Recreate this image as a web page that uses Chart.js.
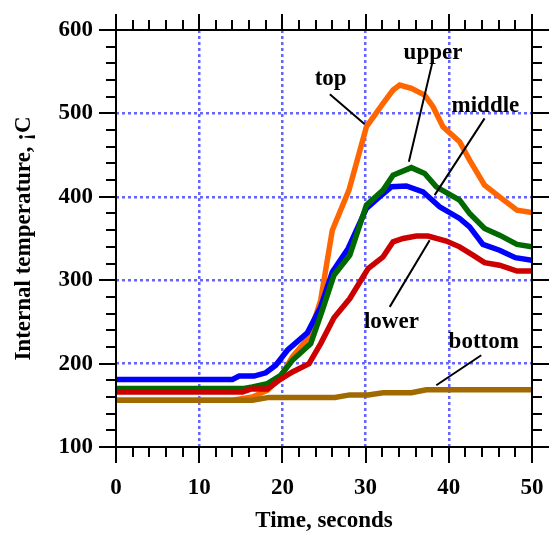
<!DOCTYPE html>
<html>
<head>
<meta charset="UTF-8">
<title>Internal temperature</title>
<script src="https://cdn.jsdelivr.net/npm/chart.js"></script>
<style>
    body { margin: 0; background: #fff; }
    #wrap { width: 549px; height: 533px; }
</style>
</head>
<body>
<div id="wrap"><canvas id="c" width="549" height="533"></canvas></div>
<script>
// values (time in s, temperature in ¡C)
const topT = [0, 14, 16.4, 18.2, 19.8, 21.2, 23.2, 24.6, 26.0, 28.0, 30.1, 32.1, 33.3, 34.1, 35.5, 37.1, 38.1, 39.3, 41.3, 42.5, 44.3, 46.1, 48.2, 50];
const topV = [156, 156, 160, 168, 184, 208, 232, 276, 360, 408, 484, 512, 528, 534, 530, 522, 508, 484, 466, 444, 414, 400, 384, 381];

const upperT = [0, 15.2, 16.4, 18.2, 19.8, 21.2, 23.4, 24.8, 26.2, 28.1, 30.1, 32.1, 33.3, 35.5, 37.1, 38.5, 41.3, 42.5, 44.3, 46.1, 48.2, 50];
const upperV = [170, 170, 172, 176, 186, 204, 224, 264, 306, 330, 390, 408, 426, 435, 428, 412, 396, 380, 362, 354, 343, 340];

const middleT = [0, 14.0, 14.8, 16.6, 18.0, 19.2, 20.6, 23.0, 24.6, 26.0, 27.9, 30.1, 31.7, 33.1, 34.9, 36.9, 38.9, 41.3, 42.5, 44.1, 46.1, 48.0, 50];
const middleV = [181, 181, 185, 185, 189, 198, 216, 237, 268, 310, 338, 386, 400, 412, 413, 406, 388, 374, 364, 343, 336, 327, 324];

const lowerT = [0, 15.2, 16.2, 18.2, 19.6, 21.2, 23.2, 24.6, 26.2, 28.1, 30.3, 32.1, 33.3, 34.5, 36.1, 37.5, 39.7, 41.3, 42.9, 44.3, 46.1, 48.2, 50];
const lowerV = [166, 166, 169.5, 169.5, 180, 190, 200, 224, 255, 278, 314, 328, 346, 350, 353, 353, 347, 340, 330, 321, 318, 311, 311];

const bottomT = [0, 16.4, 18.4, 26.3, 28.1, 30.3, 32.1, 35.5, 37.3, 50];
const bottomV = [156, 156, 159.5, 159.5, 162.5, 162.5, 165, 165, 168.5, 168.5];

// label text, label anchor (t, v) and leader line ends (t, v)
const labelNames = ['top', 'upper', 'middle', 'lower', 'bottom'];
const labelAt = [[25.8, 534], [38.1, 565], [44.4, 502], [33.1, 243], [44.2, 219]];
const leaderFrom = [[25.7, 523], [38.0, 560], [44.3, 494], [37.7, 348], [43.9, 210]];
const leaderTo = [[29.9, 487], [35.2, 442], [38.3, 402], [32.9, 268], [38.5, 174]];

const FONT = "'Liberation Serif', 'Times New Roman', serif";

const pts = (ts, vs) => ts.map((t, i) => ({x: t, y: vs[i]}));
const line = (data, color) => ({data, borderColor: color, borderWidth: 5.5, pointRadius: 0, tension: 0, fill: false});

const innerGrid = vals => c => vals.includes(c.tick.value) ? '#6464ff' : 'rgba(0,0,0,0)';

// frame, ticks on all four sides and the curve labels
const frame = {
    id: 'frame',
    afterDraw(chart) {
        const {ctx, chartArea: a, scales: {x, y}} = chart;
        ctx.save();
        ctx.strokeStyle = '#000';
        ctx.lineWidth = 2;
        ctx.strokeRect(a.left, a.top, a.right - a.left, a.bottom - a.top);
        ctx.beginPath();
        for (let t = 0; t <= 50; t += 2) {
            const px = Math.round(x.getPixelForValue(t)), len = t % 10 === 0 ? 16 : 10;
            ctx.moveTo(px, a.bottom); ctx.lineTo(px, a.bottom + len);
            ctx.moveTo(px, a.top); ctx.lineTo(px, a.top - len);
        }
        for (let v = 100; v <= 600; v += 20) {
            const py = Math.round(y.getPixelForValue(v)), len = v % 100 === 0 ? 17 : 10;
            ctx.moveTo(a.left, py); ctx.lineTo(a.left - len, py);
            ctx.moveTo(a.right, py); ctx.lineTo(a.right + len, py);
        }
        ctx.stroke();

        ctx.lineWidth = 2;
        ctx.beginPath();
        leaderFrom.forEach((p, i) => {
            ctx.moveTo(x.getPixelForValue(p[0]), y.getPixelForValue(p[1]));
            ctx.lineTo(x.getPixelForValue(leaderTo[i][0]), y.getPixelForValue(leaderTo[i][1]));
        });
        ctx.stroke();

        ctx.fillStyle = '#000';
        ctx.font = 'bold 23px ' + FONT;
        ctx.textAlign = 'center';
        ctx.textBaseline = 'alphabetic';
        labelNames.forEach((s, i) => {
            ctx.fillText(s, x.getPixelForValue(labelAt[i][0]), y.getPixelForValue(labelAt[i][1]));
        });
        ctx.restore();
    }
};

new Chart(document.getElementById('c'), {
    type: 'line',
    data: {
        datasets: [
            line(pts(bottomT, bottomV), '#a06a00'),
            line(pts(lowerT, lowerV), '#cc0000'),
            line(pts(upperT, upperV), '#006a00'),
            line(pts(middleT, middleV), '#0000ff'),
            line(pts(topT, topV), '#ff6600')
        ]
    },
    options: {
        responsive: false,
        animation: false,
        layout: { padding: { top: 30, right: 17, left: 0, bottom: 0 } },
        plugins: { legend: { display: false }, tooltip: { enabled: false } },
        scales: {
            x: {
                type: 'linear', min: 0, max: 50,
                afterFit: s => { s.height = 86; },
                ticks: { stepSize: 10, padding: 3, color: '#000', font: { family: FONT, size: 23, weight: 'bold' } },
                grid: { color: innerGrid([10, 20, 30, 40]), lineWidth: 2.5, drawTicks: true, tickLength: 24, tickColor: 'rgba(0,0,0,0)' },
                border: { display: false, dash: [3, 3] },
                title: { display: true, text: 'Time, seconds', color: '#000', padding: 0,
                         font: { family: FONT, size: 23, weight: 'bold', lineHeight: 1 } }
            },
            y: {
                min: 100, max: 600,
                afterFit: s => { s.width = 116; },
                ticks: { stepSize: 100, padding: 3, color: '#000', font: { family: FONT, size: 23, weight: 'bold' } },
                grid: { color: innerGrid([200, 300, 400, 500]), lineWidth: 2.5, drawTicks: true, tickLength: 20, tickColor: 'rgba(0,0,0,0)' },
                border: { display: false, dash: [3, 3] },
                title: { display: true, text: 'Internal temperature, ¡C', color: '#000', padding: { top: 13, bottom: 0 },
                         font: { family: FONT, size: 23, weight: 'bold', lineHeight: 1 } }
            }
        }
    },
    plugins: [frame]
});
</script>
</body>
</html>
